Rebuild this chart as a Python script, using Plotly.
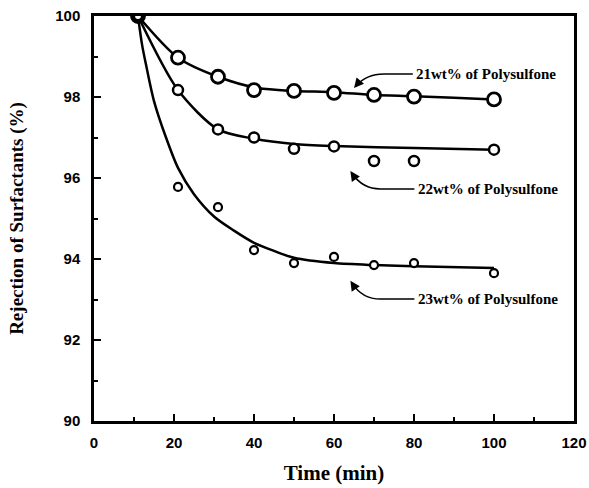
import plotly.graph_objects as go

# Measured points
x_pts = [11, 21, 31, 40, 50, 60, 70, 80, 100]
y21 = [100, 98.97, 98.5, 98.17, 98.15, 98.1, 98.05, 98.01, 97.94]
y22 = [100, 98.17, 97.2, 97.0, 96.72, 96.78, 96.42, 96.42, 96.7]
y23 = [100, 95.78, 95.28, 94.22, 93.9, 94.05, 93.85, 93.9, 93.65]

# Fitted curves
cx21 = [11, 21, 31, 41, 50, 60, 70, 80, 90, 100]
cy21 = [100, 98.97, 98.5, 98.22, 98.15, 98.12, 98.05, 98.02, 97.98, 97.94]
cx22 = [11, 21, 31, 40, 50, 60, 80, 100]
cy22 = [100, 98.17, 97.2, 96.97, 96.84, 96.79, 96.74, 96.7]
cx23 = [11, 12, 13, 15, 18, 21, 25, 30, 35, 40, 45, 50, 60, 70, 80, 100]
cy23 = [100, 99.3, 98.8, 97.9, 97.0, 96.25, 95.6, 95.05, 94.7, 94.4, 94.2, 94.03, 93.9, 93.85, 93.82, 93.78]

labels = ["21wt% of Polysulfone", "22wt% of Polysulfone", "23wt% of Polysulfone"]
label_x = [80, 80.4, 80.4]
label_y = [98.57, 95.73, 93.01]
tip_x = [65, 64.1, 64.1]
tip_y = [98.22, 96.17, 93.46]

fig = go.Figure()
for cx, cy in [(cx21, cy21), (cx22, cy22), (cx23, cy23)]:
    fig.add_trace(go.Scatter(x=cx, y=cy, mode="lines", line=dict(color="black", width=2.5, shape="spline", smoothing=0.8),
                             showlegend=False, hoverinfo="skip"))
for yy, sz, bw in [(y21, 13, 2.8), (y22, 10, 2.5), (y23, 8, 2.2)]:
    fig.add_trace(go.Scatter(x=x_pts, y=yy, mode="markers",
                             marker=dict(symbol="circle", size=sz, color="white", line=dict(color="black", width=bw)),
                             showlegend=False))

for i in range(3):
    lx, ly, tx, ty = label_x[i], label_y[i], tip_x[i], tip_y[i]
    mx = tx + 7.5
    path = f"M {lx - 0.3},{ly} L {mx},{ly} Q {tx + 3},{ly} {tx + 0.4},{ty + (ly - ty) * 0.12}"
    fig.add_shape(type="path", path=path, line=dict(color="black", width=1.5), xref="x", yref="y")
    fig.add_annotation(x=tx, y=ty, ax=tx + 3 * 0.3, ay=ty + (ly - ty) * 0.3, axref="x", ayref="y",
                       xref="x", yref="y", showarrow=True, arrowhead=2, arrowsize=1.3, arrowwidth=1.5,
                       arrowcolor="black", text="")
    fig.add_annotation(x=lx, y=ly, xref="x", yref="y", text="<b>" + labels[i] + "</b>", showarrow=False, xanchor="left",
                       yanchor="middle", font=dict(family="Liberation Serif", size=15, color="black"))

axis_common = dict(showgrid=False, zeroline=False, showline=True, linecolor="black", linewidth=2.5,
                   mirror=True, ticks="inside", tickcolor="black", tickwidth=2, ticklen=7, automargin=False,
                   tickfont=dict(family="Liberation Sans", size=15, color="black", weight="bold"))
fig.update_xaxes(range=[0, 120], tick0=0, dtick=20,
                 minor=dict(dtick=10, ticks="inside", ticklen=4, tickwidth=2, tickcolor="black"),
                 title=dict(text="<b>Time (min)</b>", font=dict(family="Liberation Serif", size=21, color="black"), standoff=16),
                 ticklabelstandoff=6, **axis_common)
fig.update_yaxes(range=[90, 100], tick0=90, dtick=2,
                 minor=dict(dtick=1, ticks="inside", ticklen=4, tickwidth=2, tickcolor="black"),
                 title=dict(text="<b>Rejection of Surfactants (%)</b>", font=dict(family="Liberation Serif", size=19, color="black"), standoff=27),
                 ticklabelstandoff=8, **axis_common)

fig.update_layout(width=589, height=488, margin=dict(l=94, r=15, t=16, b=67),
                  plot_bgcolor="white", paper_bgcolor="white")
fig.write_html("out.html", config={"displayModeBar": False},
               post_script="document.body.style.margin='0';document.body.style.overflow='hidden';")
